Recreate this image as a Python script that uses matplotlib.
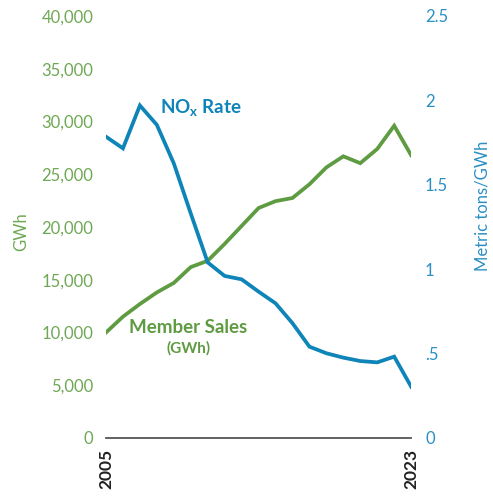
import matplotlib
matplotlib.use("Agg")
import matplotlib.pyplot as plt
from matplotlib.ticker import FuncFormatter

plt.rcParams['font.family'] = ['Lato', 'DejaVu Sans']
plt.rcParams['mathtext.fontset'] = 'custom'
plt.rcParams['mathtext.bf'] = 'Lato:bold'
plt.rcParams['mathtext.rm'] = 'Lato'

years = list(range(2005, 2024))
member_sales = [10000, 11500, 12700, 13800, 14700, 16200, 16800, 18400, 20100, 21800,
                22450, 22750, 24050, 25650, 26700, 26050, 27400, 29600, 26800]
nox_rate = [1.785, 1.716, 1.97, 1.855, 1.627, 1.33, 1.04, 0.96, 0.94, 0.867,
            0.798, 0.68, 0.541, 0.502, 0.476, 0.456, 0.448, 0.482, 0.304]

green = '#5e9b41'
green_txt = '#6fa855'
blue = '#0e84b8'
blue_txt = '#2a8fc4'

fig = plt.figure(figsize=(4.93, 5.0), dpi=100)
ax = fig.add_axes([0.215, 0.124, 0.619, 0.844])
ax2 = ax.twinx()

ax.plot(years, member_sales, color=green, lw=2.7, solid_joinstyle='miter', zorder=3)
ax2.plot(years, nox_rate, color=blue, lw=2.7, solid_joinstyle='miter', zorder=3)

ax.set_xlim(2005, 2023)
ax.set_ylim(0, 40000)
ax2.set_ylim(0, 2.5)

ax.set_yticks(range(0, 40001, 5000))
ax.yaxis.set_major_formatter(FuncFormatter(lambda v, p: f"{int(v):,}"))
ax2.set_yticks([0, 0.5, 1, 1.5, 2, 2.5])
ax2.set_yticklabels(['0', '.5', '1', '1.5', '2', '2.5'])

ax.set_xticks([2005, 2023])
ax.set_xticklabels(['2005', '2023'], rotation=90, fontweight='bold', fontsize=12.5, color='#222222')

ax.tick_params(axis='y', length=0, pad=9, labelsize=12, labelcolor=green_txt)
ax2.tick_params(axis='y', length=0, pad=10, labelsize=12, labelcolor=blue_txt)
ax.tick_params(axis='x', length=0, pad=8)

for a in (ax, ax2):
    for s in ('top', 'left', 'right', 'bottom'):
        a.spines[s].set_visible(False)
ax.spines['bottom'].set_visible(True)
ax.spines['bottom'].set_color('#555555')
ax.spines['bottom'].set_linewidth(1.3)

ax.set_ylabel('GWh', color=green_txt, fontsize=12)
ax2.set_ylabel('Metric tons/GWh', color=blue_txt, fontsize=12)
ax2.yaxis.set_label_coords(1.208, 0.55)
ax.yaxis.set_label_coords(-0.25, 0.49)

ax.text(0.176, 0.782, r'NO$_\mathbf{x}$ Rate', transform=ax.transAxes, color=blue,
        fontsize=13.5, fontweight='bold', va='center', ha='left')
ax.text(0.27, 0.263, 'Member Sales', transform=ax.transAxes, color=green,
        fontsize=13.5, fontweight='bold', va='center', ha='center')
ax.text(0.27, 0.213, '(GWh)', transform=ax.transAxes, color=green,
        fontsize=11, fontweight='bold', va='center', ha='center')

fig.savefig('out.png', dpi=100)
